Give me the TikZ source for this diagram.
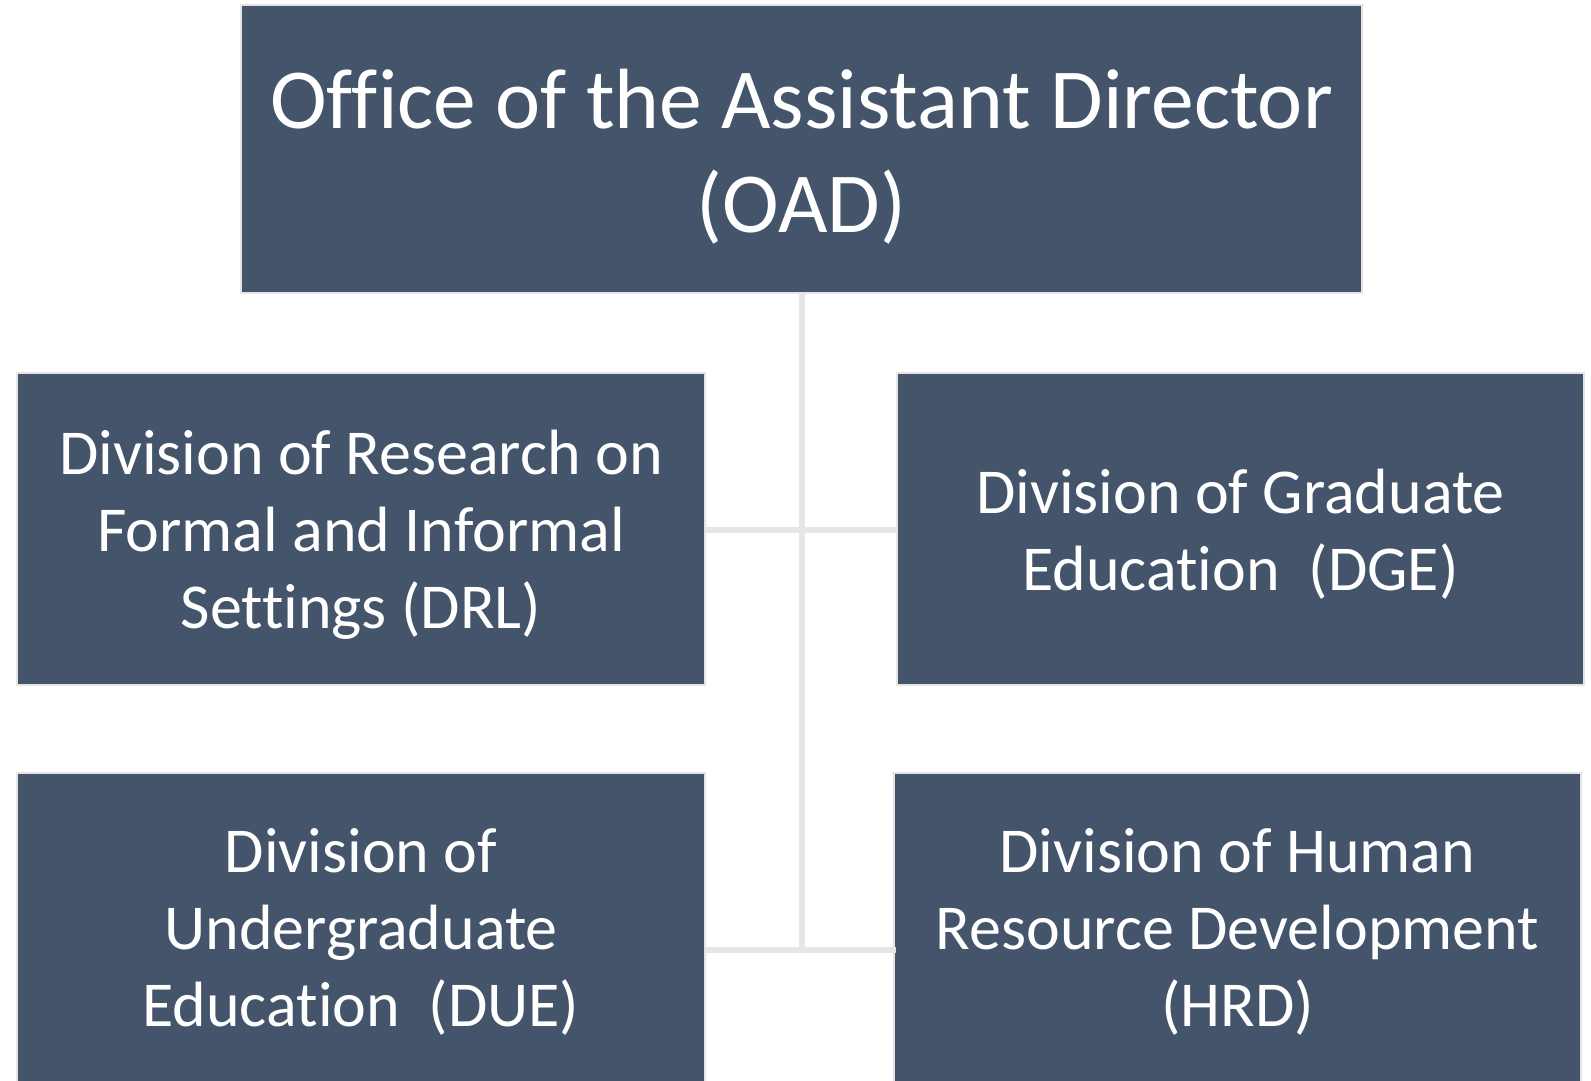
\documentclass[tikz,border=0pt]{standalone}
\usepackage{fontspec}
\setmainfont[Ligatures=NoCommon]{Carlito}
\definecolor{boxfill}{HTML}{44546A}
\definecolor{linegray}{HTML}{E6E6E6}
\definecolor{edgegray}{HTML}{E4E4E4}
\begin{document}
\begin{tikzpicture}[x=1pt,y=-1pt,
  box/.style={draw=edgegray, line width=2pt, fill=boxfill, inner sep=0pt},
  btext/.style={text=white, align=center, inner sep=0pt},
  divfont/.style={font=\fontsize{64}{77}\selectfont},
  topfont/.style={font=\fontsize{85.5}{104}\selectfont},
  conn/.style={draw=linegray, line width=6pt}]
\clip (0,0) rectangle (1591,1080);
\fill[white] (0,0) rectangle (1591,1080);
% boxes
\node[box, minimum width=1121pt, minimum height=288pt] (oad) at (801.5,149) {};
\node[box, minimum width=688pt, minimum height=312pt] (drl) at (361,529) {};
\node[box, minimum width=687pt, minimum height=312pt] (dge) at (1240.5,529) {};
\node[box, minimum width=688pt, minimum height=318pt] (due) at (361,932) {};
\node[box, minimum width=687pt, minimum height=318pt] (hrd) at (1237.5,932) {};
% texts
\node[btext, topfont] (oadt) at ([yshift=-8pt]oad.center)
  {Office of the Assistant Director\\(OAD)};
\node[btext, divfont] (drlt) at ([yshift=-6pt]drl.center)
  {Division of Research on\\Formal and Informal\\Settings (DRL)};
\node[btext, divfont] (dget) at ([yshift=-5pt]dge.center)
  {Division of Graduate\\Education\ \ (DGE)};
\node[btext, divfont] (duet) at (due.center)
  {Division of\\Undergraduate\\Education\ \ (DUE)};
\node[btext, divfont] (hrdt) at (hrd.center)
  {Division of Human\\Resource Development\\(HRD)};
% connectors
\coordinate (jb) at (801.5,950);
\draw[conn] (oad.south) -- (jb);
\draw[conn] (drl.east |- 0,530) -- (dge.west |- 0,530);
\draw[conn] (due.east |- jb) -- ([xshift=3pt]hrd.west |- jb);
\end{tikzpicture}
\end{document}
